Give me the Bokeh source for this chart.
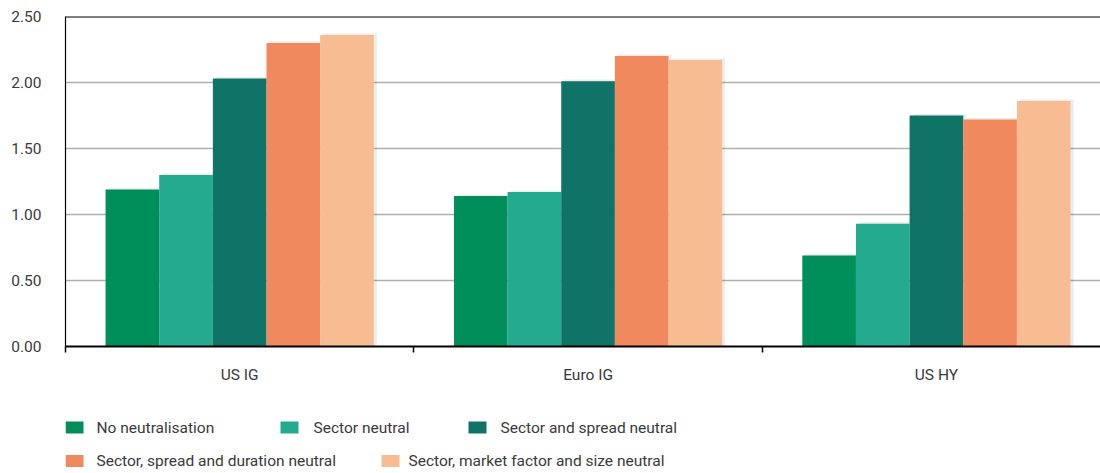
import numpy as np
from bokeh.plotting import figure
from bokeh.models import (Range1d, FixedTicker, NumeralTickFormatter, Span,
                          ColumnDataSource)
from bokeh.layouts import column
from bokeh.embed import file_html
from bokeh.resources import INLINE
from bokeh.core.properties import value

# ---------------- data ----------------
categories = ["US IG", "Euro IG", "US HY"]
series_names = [
    "No neutralisation",
    "Sector neutral",
    "Sector and spread neutral",
    "Sector, spread and duration neutral",
    "Sector, market factor and size neutral",
]
no_neutralisation = [1.19, 1.14, 0.69]
sector_neutral = [1.30, 1.17, 0.93]
sector_spread_neutral = [2.03, 2.01, 1.75]
sector_spread_duration_neutral = [2.30, 2.20, 1.72]
sector_market_size_neutral = [2.36, 2.17, 1.86]
y_ticks = [0.0, 0.5, 1.0, 1.5, 2.0, 2.5]

series_values = [no_neutralisation, sector_neutral, sector_spread_neutral,
                 sector_spread_duration_neutral, sector_market_size_neutral]
colors = ["#008f5a", "#24ab8f", "#107367", "#f0895d", "#f7bc92"]

FONT = "Roboto"
TXT = "#3a3a3a"

# ---------------- main chart ----------------
p = figure(width=1100, height=390, output_backend="svg", toolbar_location=None,
           x_range=Range1d(0, 2.971), y_range=Range1d(0, 2.5),
           min_border_left=65, min_border_right=0, min_border_top=16,
           min_border_bottom=44)
p.outline_line_color = None
p.background_fill_color = "white"
p.border_fill_color = "white"

bar_w = 0.154
base = np.arange(len(categories)) + 0.5
for k, (vals, col, name) in enumerate(zip(series_values, colors, series_names)):
    x = base + (k - 2) * bar_w
    # soft shadow
    p.vbar(x=x + 0.009, top=np.array(vals) + 0.012, width=bar_w, bottom=0,
           color="#000000", alpha=0.07, line_color=None)
for k, (vals, col, name) in enumerate(zip(series_values, colors, series_names)):
    x = base + (k - 2) * bar_w
    src = ColumnDataSource(dict(x=x, top=vals))
    p.vbar(x="x", top="top", width=bar_w, bottom=0, source=src,
           fill_color=col, line_color=None)

# top border
p.add_layout(Span(location=2.5, dimension="width", line_color="black",
                  line_width=2))

# y axis
p.yaxis.ticker = FixedTicker(ticks=y_ticks)
p.yaxis.formatter = NumeralTickFormatter(format="0.00")
p.yaxis.major_tick_out = 0
p.yaxis.major_tick_in = 0
p.yaxis.minor_tick_out = 0
p.yaxis.minor_tick_in = 0
p.yaxis.axis_line_color = "black"
p.yaxis.axis_line_width = 1.2
p.yaxis.major_label_standoff = 24
p.yaxis.major_label_text_font = FONT
p.yaxis.major_label_text_font_size = "15.5px"
p.yaxis.major_label_text_color = TXT

# x axis
p.xaxis.ticker = FixedTicker(ticks=list(base), minor_ticks=[0, 1, 2, 3])
p.xaxis.major_label_overrides = {float(b): c for b, c in zip(base, categories)}
p.xaxis.major_tick_out = 0
p.xaxis.major_tick_in = 0
p.xaxis.minor_tick_out = 6
p.xaxis.minor_tick_in = 0
p.xaxis.minor_tick_line_color = "black"
p.xaxis.minor_tick_line_width = 1.5
p.xaxis.axis_line_color = "black"
p.xaxis.axis_line_width = 1.8
p.xaxis.major_label_standoff = 13
p.xaxis.major_label_text_font = FONT
p.xaxis.major_label_text_font_size = "15.5px"
p.xaxis.major_label_text_color = TXT

p.xgrid.grid_line_color = None
p.ygrid.grid_line_color = "#b0b0b0"
p.ygrid.grid_line_width = 1.6

# ---------------- legend (separate panel) ----------------
# the column layout aligns this panel's frame with the chart frame (x = 65 px),
# so the x range is expressed in page pixels starting at that frame edge
lg = figure(width=1100, height=83, output_backend="svg", toolbar_location=None,
            x_range=Range1d(65, 1100), y_range=Range1d(0, 83),
            x_axis_location=None, y_axis_location=None,
            min_border=0, min_border_left=65, min_border_right=0,
            min_border_top=0, min_border_bottom=0)
lg.outline_line_color = None
lg.grid.visible = False

leg_sq_x = [74, 289, 477, 74, 390]
leg_txt_x = [96, 313, 500, 96, 408]
leg_y = [46, 46, 46, 12.5, 12.5]
lg.rect(x=leg_sq_x, y=leg_y, width=18, height=12, fill_color=colors,
        line_color=None)
lg.text(x=leg_txt_x, y=leg_y, text=series_names, text_font=value(FONT),
        text_font_size="15.5px", text_color=TXT, text_baseline="middle",
        text_align="left")

layout = column(p, lg, spacing=0)
open("out.html", "w").write(file_html(layout, INLINE))
